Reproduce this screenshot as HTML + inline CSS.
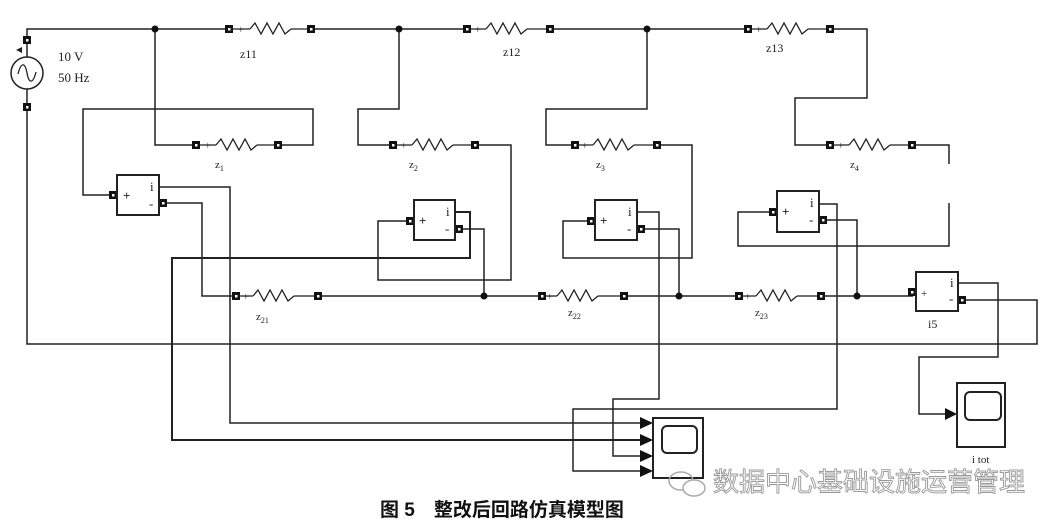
<!DOCTYPE html>
<html><head><meta charset="utf-8"><style>
html,body{margin:0;padding:0;background:#fff;width:1059px;height:529px;overflow:hidden}
svg{display:block}
text{font-family:"Liberation Serif",serif;fill:#222}
</style></head><body>
<svg width="1059" height="529" viewBox="0 0 1059 529" xmlns="http://www.w3.org/2000/svg">
<defs>
<g id="t"><rect x="-4" y="-4" width="8" height="8" fill="#111"/><rect x="-1" y="-1" width="2.5" height="2.5" fill="#fff"/></g>
<g id="zig"><polyline points="0,0 5,-6 11,5 17,-6 23,5 29,-6 35,5 41,0" fill="none" stroke="#222" stroke-width="1.3"/></g>
</defs>
<g fill="none" stroke="#222" stroke-width="1.5">
<!-- top line -->
<polyline points="27,40 27,29 229,29"/>
<line x1="311" y1="29" x2="467" y2="29"/>
<line x1="550" y1="29" x2="748" y2="29"/>
<polyline points="830,29 867,29 867,98 795,98 795,145 830,145"/>
<!-- source -->
<line x1="27" y1="44" x2="27" y2="57"/>
<circle cx="27" cy="73" r="16"/>
<line x1="27" y1="89" x2="27" y2="103"/>
<polyline points="27,111 27,344 1037,344 1037,300 962,300"/>
<!-- branch 1 -->
<polyline points="155,29 155,145 196,145"/>
<polyline points="278,145 313,145 313,109 83,109 83,195 113,195"/>
<!-- branch 2 -->
<polyline points="399,29 399,109 358,109 358,145 393,145"/>
<polyline points="475,145 511,145 511,280 378,280 378,221 410,221"/>
<!-- branch 3 -->
<polyline points="647,29 647,109 546,109 546,145 575,145"/>
<polyline points="657,145 692,145 692,258 563,258 563,221 591,221"/>
<!-- branch 4 -->
<polyline points="912,145 949,145 949,164"/>
<polyline points="949,203 949,246 738,246 738,212 773,212"/>
<!-- bottom row -->
<polyline points="163,203 202,203 202,296 236,296"/>
<line x1="318" y1="296" x2="542" y2="296"/>
<line x1="624" y1="296" x2="739" y2="296"/>
<line x1="821" y1="296" x2="913" y2="296"/>
<polyline points="459,229 484,229 484,296"/>
<polyline points="641,229 679,229 679,296"/>
<polyline points="823,220 857,220 857,296"/>
<!-- measurement lines -->
<polyline points="159,187 230,187 230,423 640,423"/>
<polyline points="455,212 470,212 470,258 172,258 172,440 640,440" stroke-width="2"/>
<polyline points="637,212 659,212 659,399 613,399 613,456 640,456"/>
<polyline points="819,204 837,204 837,409 573,409 573,471 640,471"/>
<polyline points="958,283 998,283 998,357 919,357 919,414 945,414"/>
</g>
<!-- resistors -->
<g stroke="#222" stroke-width="1.3" fill="none">
<line x1="229" y1="29" x2="250" y2="29"/><use href="#zig" x="250" y="29"/><line x1="291" y1="29" x2="311" y2="29"/>
<line x1="467" y1="29" x2="486" y2="29"/><use href="#zig" x="486" y="29"/><line x1="527" y1="29" x2="550" y2="29"/>
<line x1="748" y1="29" x2="767" y2="29"/><use href="#zig" x="767" y="29"/><line x1="808" y1="29" x2="830" y2="29"/>
<line x1="196" y1="145" x2="216" y2="145"/><use href="#zig" x="216" y="145"/><line x1="257" y1="145" x2="278" y2="145"/>
<line x1="393" y1="145" x2="412" y2="145"/><use href="#zig" x="412" y="145"/><line x1="453" y1="145" x2="475" y2="145"/>
<line x1="575" y1="145" x2="593" y2="145"/><use href="#zig" x="593" y="145"/><line x1="634" y1="145" x2="657" y2="145"/>
<line x1="830" y1="145" x2="849" y2="145"/><use href="#zig" x="849" y="145"/><line x1="890" y1="145" x2="912" y2="145"/>
<line x1="236" y1="296" x2="253" y2="296"/><use href="#zig" x="253" y="296"/><line x1="294" y1="296" x2="318" y2="296"/>
<line x1="542" y1="296" x2="557" y2="296"/><use href="#zig" x="557" y="296"/><line x1="598" y1="296" x2="624" y2="296"/>
<line x1="739" y1="296" x2="756" y2="296"/><use href="#zig" x="756" y="296"/><line x1="797" y1="296" x2="821" y2="296"/>
</g>
<g font-size="10" fill="#222" style="font-family:'Liberation Sans',sans-serif">
<text x="238" y="33">+</text><text x="475" y="33">+</text><text x="756" y="33">+</text>
<text x="205" y="149">+</text><text x="401" y="149">+</text><text x="582" y="149">+</text><text x="838" y="149">+</text>
<text x="243" y="300">+</text><text x="547" y="300">+</text><text x="745" y="300">+</text>
</g>
<!-- terminals -->
<use href="#t" x="27" y="40"/><use href="#t" x="27" y="107"/>
<use href="#t" x="229" y="29"/><use href="#t" x="311" y="29"/><use href="#t" x="467" y="29"/><use href="#t" x="550" y="29"/><use href="#t" x="748" y="29"/><use href="#t" x="830" y="29"/>
<use href="#t" x="196" y="145"/><use href="#t" x="278" y="145"/><use href="#t" x="393" y="145"/><use href="#t" x="475" y="145"/><use href="#t" x="575" y="145"/><use href="#t" x="657" y="145"/><use href="#t" x="830" y="145"/><use href="#t" x="912" y="145"/>
<use href="#t" x="236" y="296"/><use href="#t" x="318" y="296"/><use href="#t" x="542" y="296"/><use href="#t" x="624" y="296"/><use href="#t" x="739" y="296"/><use href="#t" x="821" y="296"/>
<use href="#t" x="113" y="195"/><use href="#t" x="163" y="203"/>
<use href="#t" x="410" y="221"/><use href="#t" x="459" y="229"/>
<use href="#t" x="591" y="221"/><use href="#t" x="641" y="229"/>
<use href="#t" x="773" y="212"/><use href="#t" x="823" y="220"/>
<use href="#t" x="912" y="292"/><use href="#t" x="962" y="300"/>
<!-- junctions -->
<g fill="#111"><circle cx="155" cy="29" r="3.5"/><circle cx="399" cy="29" r="3.5"/><circle cx="647" cy="29" r="3.5"/>
<circle cx="484" cy="296" r="3.5"/><circle cx="679" cy="296" r="3.5"/><circle cx="857" cy="296" r="3.5"/></g>
<!-- source details -->
<path d="M18,74 C21,62 25,62 27,73 C29,84 33,84 36,72" fill="none" stroke="#222" stroke-width="1.3"/>
<path d="M16,50 L22,47 L22,53 Z" fill="#222"/>
<text x="58" y="61" font-size="13">10 V</text>
<text x="58" y="82" font-size="13">50 Hz</text>
<!-- ammeter boxes -->
<g fill="#fff" stroke="#222" stroke-width="2">
<rect x="117" y="175" width="42" height="40"/>
<rect x="414" y="200" width="41" height="40"/>
<rect x="595" y="200" width="42" height="40"/>
<rect x="777" y="191" width="42" height="41"/>
<rect x="916" y="272" width="42" height="39"/>
</g>
<g font-size="13" style="font-family:'Liberation Sans',sans-serif" fill="#222">
<text x="123" y="200" font-weight="bold">+</text><text x="150" y="191">i</text><text x="149" y="208">-</text>
<text x="419" y="225" font-weight="bold">+</text><text x="446" y="216">i</text><text x="445" y="233">-</text>
<text x="600" y="225" font-weight="bold">+</text><text x="628" y="216">i</text><text x="627" y="233">-</text>
<text x="782" y="216" font-weight="bold">+</text><text x="810" y="207">i</text><text x="809" y="224">-</text>
<text x="921" y="297" font-size="11">+</text><text x="950" y="287">i</text><text x="949" y="303">-</text>
</g>
<!-- labels -->
<g font-size="12">
<text x="240" y="58">z11</text><text x="503" y="56">z12</text><text x="766" y="52">z13</text>
<text x="215" y="168" font-size="11">z<tspan font-size="8" dy="3">1</tspan></text>
<text x="409" y="168" font-size="11">z<tspan font-size="8" dy="3">2</tspan></text>
<text x="596" y="168" font-size="11">z<tspan font-size="8" dy="3">3</tspan></text>
<text x="850" y="168" font-size="11">z<tspan font-size="8" dy="3">4</tspan></text>
<text x="256" y="320" font-size="11">z<tspan font-size="8" dy="3">21</tspan></text>
<text x="568" y="316" font-size="11">z<tspan font-size="8" dy="3">22</tspan></text>
<text x="755" y="316" font-size="11">z<tspan font-size="8" dy="3">23</tspan></text>
<text x="928" y="328" font-size="12">i5</text>
<text x="972" y="463" font-size="11">i tot</text>
</g>
<!-- scopes -->
<g fill="#fff" stroke="#222" stroke-width="2">
<rect x="653" y="418" width="50" height="60"/>
<rect x="662" y="426" width="35" height="27" rx="5"/>
<rect x="957" y="383" width="48" height="64"/>
<rect x="965" y="392" width="36" height="28" rx="5"/>
</g>
<g fill="#111">
<path d="M640,417 L653,423 L640,429 Z"/><path d="M640,434 L653,440 L640,446 Z"/>
<path d="M640,450 L653,456 L640,462 Z"/><path d="M640,465 L653,471 L640,477 Z"/>
<path d="M945,408 L957,414 L945,420 Z"/>
</g>
<!-- watermark -->
<g fill="none" stroke="#aaa" stroke-width="1.5">
<ellipse cx="681" cy="481" rx="12" ry="9"/><ellipse cx="694" cy="488" rx="11" ry="8" fill="#fff"/>
</g>
<text x="713" y="491" font-size="26" style="font-family:'Liberation Sans','Noto Sans CJK SC',sans-serif;fill:#fff;stroke:#999;stroke-width:0.9">数据中心基础设施运营管理</text>
<text x="380" y="516" font-size="19" font-weight="bold" style="font-family:'Liberation Sans','Noto Sans CJK SC',sans-serif;fill:#111">图 5　整改后回路仿真模型图</text>
</svg>
</body></html>
